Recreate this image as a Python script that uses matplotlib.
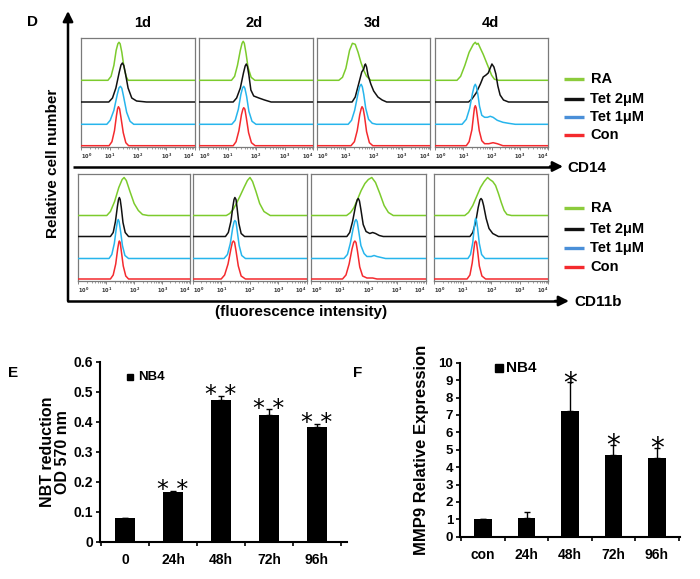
import numpy as np
import matplotlib
matplotlib.use("Agg")
import matplotlib.pyplot as plt

plt.rcParams['font.family'] = ['Liberation Sans', 'DejaVu Sans']
plt.rcParams['font.weight'] = 'bold'

W, H = 700, 579

# --- flow cytometry histograms: (log10 intensity, height) key points, one list per day
days = ['1d', '2d', '3d', '4d']
series = ['RA', 'Tet 2μM', 'Tet 1μM', 'Con']

cd14_ra = [
    [(0.94, 0), (1.05, 4), (1.15, 15), (1.23, 30), (1.29, 36.5), (1.33, 38), (1.37, 36.5), (1.43, 28), (1.50, 14), (1.58, 4), (1.65, 0)],
    [(1.14, 0), (1.25, 4), (1.35, 15), (1.45, 30), (1.51, 37), (1.55, 39), (1.59, 37), (1.65, 27), (1.72, 13), (1.83, 3), (1.96, 0)],
    [(0.77, 0), (0.90, 3), (1.02, 12), (1.15, 30), (1.25, 37), (1.35, 36), (1.45, 28), (1.55, 18), (1.65, 10), (1.75, 4), (1.90, 0)],
    [(0.77, 0), (0.90, 4), (1.05, 15), (1.20, 28), (1.35, 36), (1.42, 38), (1.47, 36), (1.52, 37), (1.60, 32), (1.70, 26),
     (1.80, 19), (1.90, 12), (2.00, 5), (2.10, 1), (2.25, 0)],
]
cd14_tet2 = [
    [(0.97, 0), (1.10, 4), (1.22, 14), (1.34, 30), (1.40, 37), (1.45, 39), (1.50, 36.5), (1.56, 28), (1.65, 14), (1.78, 4),
     (1.95, 1), (2.30, 0)],
    [(1.20, 0), (1.32, 4), (1.45, 14), (1.56, 29), (1.62, 36), (1.66, 38), (1.70, 35.5), (1.75, 27), (1.82, 12), (1.92, 6),
     (2.10, 4), (2.30, 2), (2.53, 0)],
    [(1.24, 0), (1.35, 5), (1.47, 18), (1.58, 30), (1.65, 33), (1.68, 36.5), (1.71, 38), (1.75, 35), (1.80, 27), (1.90, 18),
     (2.00, 11), (2.15, 5), (2.30, 2), (2.46, 0)],
    [(1.18, 0), (1.30, 3), (1.45, 9), (1.60, 18), (1.70, 25), (1.80, 27), (1.88, 29), (1.95, 34), (2.01, 38), (2.08, 35),
     (2.15, 28), (2.22, 16), (2.30, 7), (2.42, 2), (2.60, 0)],
]
cd14_tet1 = [
    [(0.90, 0), (1.02, 4), (1.15, 14), (1.27, 30), (1.33, 36.5), (1.38, 38), (1.43, 36), (1.49, 28), (1.60, 12), (1.72, 3), (1.85, 0)],
    [(1.15, 0), (1.27, 4), (1.38, 15), (1.47, 30), (1.53, 36.5), (1.57, 38), (1.61, 36), (1.67, 28), (1.75, 13), (1.86, 3), (2.00, 0)],
    [(1.10, 0), (1.22, 4), (1.33, 14), (1.45, 31), (1.51, 38), (1.56, 40), (1.60, 37.5), (1.65, 30), (1.72, 16), (1.82, 5),
     (1.95, 1), (2.10, 0)],
    [(0.95, 0), (1.10, 5), (1.22, 16), (1.32, 31), (1.38, 38), (1.42, 40), (1.46, 37.5), (1.51, 30), (1.57, 18), (1.65, 9),
     (1.75, 7), (1.85, 7), (1.95, 8), (2.05, 7), (2.20, 4), (2.40, 2), (2.60, 1), (2.84, 0)],
]
cd14_con = [
    [(0.98, 0), (1.08, 4), (1.17, 15), (1.24, 30), (1.28, 37), (1.31, 39), (1.35, 37), (1.40, 28), (1.48, 13), (1.57, 3), (1.67, 0)],
    [(1.20, 0), (1.30, 4), (1.40, 15), (1.49, 31), (1.54, 36.5), (1.57, 38), (1.61, 36.5), (1.66, 28), (1.74, 13), (1.84, 3), (1.97, 0)],
    [(1.20, 0), (1.32, 4), (1.42, 15), (1.51, 31), (1.56, 37), (1.59, 39), (1.63, 37), (1.68, 29), (1.75, 14), (1.85, 3), (1.97, 0)],
    [(1.10, 0), (1.20, 4), (1.30, 16), (1.36, 31), (1.39, 38), (1.42, 40), (1.45, 38), (1.49, 30), (1.56, 15), (1.65, 5),
     (1.75, 2), (1.90, 2), (2.05, 3), (2.20, 2), (2.40, 0)],
]

cd11b_ra = [
    [(1.02, 0), (1.15, 4), (1.30, 14), (1.45, 28), (1.57, 36), (1.64, 38), (1.72, 35), (1.85, 24), (2.00, 12), (2.15, 5),
     (2.30, 1), (2.50, 0)],
    [(1.18, 0), (1.30, 2), (1.42, 6), (1.55, 13), (1.67, 20), (1.80, 28), (1.92, 35), (2.01, 38), (2.10, 34), (2.22, 24),
     (2.35, 12), (2.50, 4), (2.72, 0)],
    [(1.24, 0), (1.38, 3), (1.50, 8), (1.62, 16), (1.75, 25), (1.88, 32), (2.00, 36), (2.12, 38), (2.25, 33), (2.40, 22),
     (2.55, 10), (2.70, 3), (2.87, 0)],
    [(1.07, 0), (1.20, 3), (1.35, 10), (1.50, 20), (1.62, 28), (1.75, 34), (1.87, 38), (1.95, 36), (2.05, 34), (2.15, 30),
     (2.25, 22), (2.35, 13), (2.45, 5), (2.55, 1), (2.71, 0)],
]
cd11b_tet2 = [
    [(1.15, 0), (1.25, 4), (1.33, 15), (1.40, 30), (1.44, 37), (1.47, 39), (1.50, 37), (1.54, 29), (1.60, 14), (1.68, 4), (1.80, 0)],
    [(1.15, 0), (1.25, 4), (1.34, 15), (1.41, 30), (1.45, 37), (1.48, 39), (1.52, 37), (1.56, 28), (1.62, 13), (1.70, 3), (1.82, 0)],
    [(1.25, 0), (1.35, 4), (1.45, 15), (1.55, 30), (1.61, 36.5), (1.65, 38), (1.69, 35.5), (1.74, 27), (1.82, 12), (1.92, 5),
     (2.05, 3), (2.15, 4), (2.25, 3), (2.38, 1), (2.52, 0)],
    [(1.25, 0), (1.35, 4), (1.45, 14), (1.54, 29), (1.60, 36.5), (1.64, 38), (1.68, 36.5), (1.73, 31), (1.82, 18), (1.92, 8),
     (2.05, 3), (2.25, 0)],
]
cd11b_tet1 = [
    [(1.10, 0), (1.20, 4), (1.29, 15), (1.36, 30), (1.40, 37), (1.43, 39), (1.46, 37), (1.51, 28), (1.58, 13), (1.67, 3), (1.80, 0)],
    [(1.10, 0), (1.22, 4), (1.32, 15), (1.40, 30), (1.45, 36.5), (1.48, 38), (1.52, 36.5), (1.56, 28), (1.63, 13), (1.72, 3), (1.85, 0)],
    [(1.15, 0), (1.27, 4), (1.37, 15), (1.47, 30), (1.53, 37), (1.57, 39), (1.61, 37), (1.66, 28), (1.74, 13), (1.85, 5),
     (1.95, 2), (2.10, 2), (2.20, 3), (2.30, 2), (2.45, 1), (2.60, 0)],
    [(1.18, 0), (1.27, 4), (1.35, 16), (1.40, 31), (1.43, 38), (1.45, 40), (1.48, 38), (1.52, 30), (1.58, 15), (1.66, 4), (1.78, 0)],
]
cd11b_con = [
    [(1.15, 0), (1.25, 4), (1.34, 15), (1.41, 30), (1.45, 36.5), (1.47, 38), (1.50, 36.5), (1.54, 28), (1.61, 13), (1.70, 3), (1.80, 0)],
    [(1.00, 0), (1.12, 4), (1.24, 15), (1.34, 30), (1.39, 36.5), (1.43, 38), (1.47, 36.5), (1.52, 28), (1.60, 13), (1.70, 3), (1.85, 0)],
    [(1.10, 0), (1.22, 4), (1.33, 15), (1.43, 30), (1.49, 36.5), (1.53, 38), (1.57, 36.5), (1.62, 28), (1.70, 12), (1.80, 3),
     (1.95, 1), (2.05, 1), (2.15, 1), (2.30, 0)],
    [(1.15, 0), (1.25, 4), (1.33, 16), (1.39, 30), (1.42, 36.5), (1.45, 38), (1.48, 36.5), (1.52, 28), (1.58, 13), (1.67, 3), (1.80, 0)],
]

# --- bar charts
nbt_labels = ['0', '24h', '48h', '72h', '96h']
nbt_values = [0.078, 0.165, 0.472, 0.422, 0.381]
nbt_err = [0.0, 0.005, 0.014, 0.019, 0.013]
nbt_stars = ['', '* *', '* *', '* *', '* *']

mmp_labels = ['con', '24h', '48h', '72h', '96h']
mmp_values = [1.0, 1.1, 7.24, 4.7, 4.5]
mmp_err = [0.0, 0.3, 1.63, 0.57, 0.61]
mmp_stars = ['', '', '*', '*', '*']

curve_colors = ['#7ccb2d', '#111111', '#27b5ec', '#f42a2e']
legend_colors = ['#8ccb3c', '#111111', '#4a8fd8', '#f42a2e']


def box(x0, y0, x1, y1):
    return [x0 / W, 1 - y1 / H, (x1 - x0) / W, (y1 - y0) / H]


fig = plt.figure(figsize=(7.0, 5.79), dpi=100)

# overlay for arrows and free text, in pixel coordinates
ov = fig.add_axes([0, 0, 1, 1])
ov.set_xlim(0, W)
ov.set_ylim(H, 0)
ov.axis('off')

arrow = dict(arrowstyle='-|>,head_length=0.6,head_width=0.3', color='black', lw=1.8, shrinkA=0, shrinkB=0)
ov.annotate('', xy=(68, 11), xytext=(68, 301), arrowprops=arrow)
ov.plot([67.1, 560], [301, 301], color='black', lw=1.8, solid_capstyle='butt')
ov.annotate('', xy=(569, 301), xytext=(555, 301), arrowprops=arrow)
ov.plot([73, 555], [166.5, 166.5], color='black', lw=1.8, solid_capstyle='butt')
ov.annotate('', xy=(563, 166.5), xytext=(550, 166.5), arrowprops=arrow)

ov.text(567, 168, 'CD14', fontsize=11, fontweight='bold', ha='left', va='center')
ov.text(574, 302, 'CD11b', fontsize=11, fontweight='bold', ha='left', va='center')
ov.text(301, 312, '(fluorescence intensity)', fontsize=11, fontweight='bold', ha='center', va='center')
ov.text(53, 163, 'Relative cell number', fontsize=11, fontweight='bold', ha='center', va='center', rotation=90)
ov.text(33, 22, 'D', fontsize=11, fontweight='bold', ha='center', va='center')
ov.text(13, 373, 'E', fontsize=11, fontweight='bold', ha='center', va='center')
ov.text(358, 373, 'F', fontsize=11, fontweight='bold', ha='center', va='center')

for day, xc in zip(days, [143, 254, 372, 490]):
    ov.text(xc, 23, day, fontsize=10.5, fontweight='bold', ha='center', va='center')

for ys in ([79, 99, 117, 135], [208, 229, 248, 267]):
    for name, col, y in zip(series, legend_colors, ys):
        ov.plot([564, 584], [y, y], color=col, lw=2.4, solid_capstyle='butt')
        ov.text(591 if name == 'RA' else 590, y, name, fontsize=10.5, fontweight='bold', ha='left', va='center')

# histogram panels
top_x = [(81.3, 194.7), (199, 313), (317, 430.3), (435.3, 548)]
bot_x = [(78.3, 190), (192.7, 306.7), (311, 425.7), (434.3, 548.3)]
rows = [
    (top_x, 38.3, 147.3, [cd14_ra, cd14_tet2, cd14_tet1, cd14_con], [67, 45.3, 23, 1.6]),
    (bot_x, 174.3, 281, [cd11b_ra, cd11b_tet2, cd11b_tet1, cd11b_con], [65.5, 44.5, 22.5, 2.0]),
]
minor = [d + np.log10(m) for d in range(4) for m in range(2, 10)]

for xs, y0, y1, curves, bases in rows:
    for i, (xa, xb) in enumerate(xs):
        ax = fig.add_axes(box(xa, y0, xb, y1))
        for k in range(4):
            pts = curves[k][i]
            px = [0] + [p[0] for p in pts] + [4]
            py = [bases[k]] + [bases[k] + p[1] for p in pts] + [bases[k]]
            ax.plot(px, py, color=curve_colors[k], lw=1.1, zorder=3 + k)
        ax.set_xlim(0, 4)
        ax.set_ylim(0, y1 - y0)
        ax.set_yticks([])
        ax.set_xticks(range(5))
        labs = ax.set_xticklabels([r'$10^{%d}$' % d for d in range(5)], fontsize=3.6, color='#333333')
        labs[0].set_ha('left')
        labs[-1].set_ha('right')
        ax.set_xticks(minor, minor=True)
        ax.tick_params(axis='x', which='major', length=2.5, width=0.5, pad=1, color='#555555')
        ax.tick_params(axis='x', which='minor', length=1.2, width=0.4, color='#555555')
        for s in ax.spines.values():
            s.set_color('#7a7a7a')
            s.set_linewidth(0.9)


def bar_panel(rect, labels, values, err, stars, ymax, ystep, fmt, ylabel, ylfs, ylx, star_fs, star_dy,
              leg_xy, leg_fs, leg_ms, ytfs, xl):
    ax = fig.add_axes(rect)
    x = np.arange(len(labels))
    ax.bar(x, values, width=0.4, color='black', zorder=2)
    ax.errorbar(x, values, yerr=[np.zeros(len(err)), err], fmt='none', ecolor='black', elinewidth=1.0,
                capsize=2.5, capthick=1.0, zorder=3)
    for xi, v, e, s in zip(x, values, err, stars):
        if s:
            ax.annotate(s, (xi, v + e), xytext=(0, star_dy), textcoords='offset points', ha='center',
                        va='bottom', fontsize=star_fs, fontweight='normal', family='DejaVu Sans')
    ax.set_xlim(*xl)
    ax.set_ylim(0, ymax)
    ticks = np.arange(0, ymax + ystep / 2, ystep)
    ax.set_yticks(ticks)
    ax.set_yticklabels([fmt(t) for t in ticks], fontsize=ytfs, fontweight='bold')
    ax.set_xticks(x)
    ax.set_xticklabels(labels, fontsize=10, fontweight='bold')
    ax.set_xticks(np.arange(len(labels) + 1) - 0.5, minor=True)
    ax.tick_params(axis='x', which='major', length=0, pad=8)
    ax.tick_params(axis='x', which='minor', length=3, width=1.2, direction='out')
    ax.tick_params(axis='y', length=3, width=1.2, direction='out', pad=2)
    for s in ['top', 'right']:
        ax.spines[s].set_visible(False)
    for s in ['left', 'bottom']:
        ax.spines[s].set_linewidth(1.5)
    ax.set_ylabel(ylabel, fontsize=ylfs, fontweight='bold', linespacing=1.05)
    ax.yaxis.set_label_coords(ylx, 0.5)
    ax.plot([leg_xy[0]], [leg_xy[1]], marker='s', ms=leg_ms, color='black', transform=ax.transAxes, clip_on=False)
    ax.text(leg_xy[0] + 0.032, leg_xy[1], 'NB4', transform=ax.transAxes, fontsize=leg_fs, fontweight='bold',
            ha='left', va='center')
    return ax


bar_panel(box(100, 361.7, 346.7, 541.7), nbt_labels, nbt_values, nbt_err, nbt_stars, 0.6, 0.1,
          lambda t: '0' if t == 0 else ('%.1f' % t), 'NBT reduction\nOD 570 nm', 11.5, -0.12, 17, -8,
          (0.123, 0.915), 9.5, 5, 10, (-0.52, 4.62))
bar_panel(box(460, 362.7, 680, 536.7), mmp_labels, mmp_values, mmp_err, mmp_stars, 10, 1,
          lambda t: '%d' % t, 'MMP9 Relative Expression', 12, -0.14, 20, -11,
          (0.178, 0.97), 11, 6, 9.5, (-0.53, 4.53))

fig.savefig('out.png', dpi=100)
